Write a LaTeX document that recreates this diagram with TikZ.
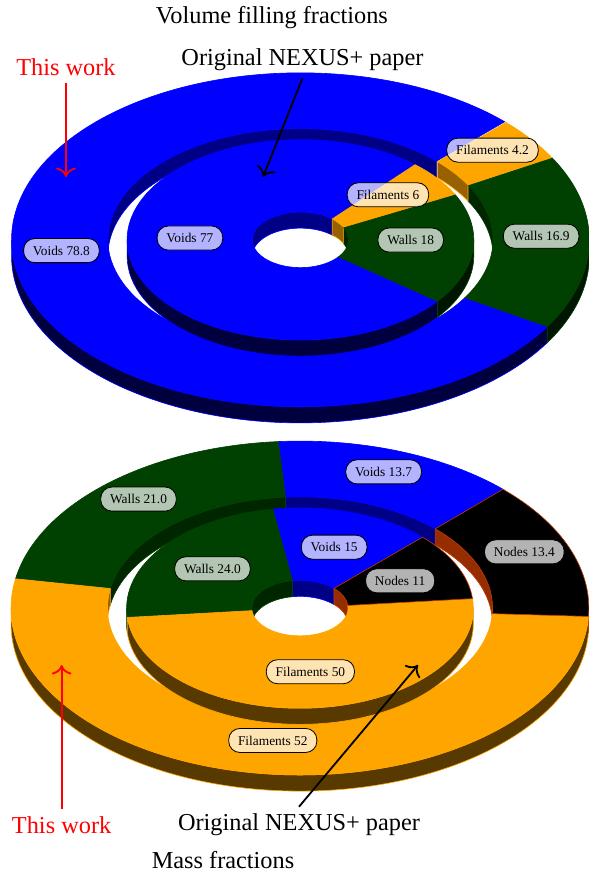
\documentclass[tikz,border=0pt]{standalone}
\usepackage{fontspec}
\setmainfont{Liberation Serif}
\usetikzlibrary{arrows.meta}

\definecolor{voidtop}{RGB}{0,0,255}
\definecolor{voidfar}{RGB}{0,0,135}
\definecolor{voidnear}{RGB}{0,0,62}
\colorlet{voidedge}{voidtop}
\definecolor{walltop}{RGB}{0,64,0}
\definecolor{wallfar}{RGB}{0,38,0}
\definecolor{wallnear}{RGB}{0,22,0}
\colorlet{walledge}{walltop}
\definecolor{filtop}{RGB}{255,165,0}
\definecolor{filfar}{RGB}{152,97,0}
\definecolor{filnear}{RGB}{88,58,0}
\colorlet{filedge}{filtop}
\definecolor{nodetop}{RGB}{0,0,0}
\definecolor{nodefar}{RGB}{150,45,0}
\definecolor{nodenear}{RGB}{120,35,0}
\definecolor{nodeedge}{RGB}{190,60,0}

\newcommand{\slab}{0.28cm}

% one side face of a slice, only the part between angles #4 and #5
\newcommand{\sideface}[7]{%
  \pgfmathsetmacro{\wa}{max(#2,#4)}%
  \pgfmathsetmacro{\wb}{min(#3,#5)}%
  \pgfmathtruncatemacro{\wok}{\wb>\wa}%
  \ifnum\wok>0
    \path[fill=#6, draw=#7, line width=0.3pt] (\wa:#1) arc[start angle=\wa, end angle=\wb, radius=#1]
      -- ++(0,-\slab) arc[start angle=\wb, end angle=\wa, radius=#1] -- cycle;
  \fi}

% one ring: inner radius, outer radius, slices start/end/kind
\newcommand{\ringpart}[3]{%
  \foreach \sa/\sb/\sk in {#3}{
    \sideface{#2}{\sa}{\sb}{180}{360}{\sk near}{\sk edge}
    \sideface{#1}{\sa}{\sb}{0}{180}{\sk far}{\sk edge}
    \sideface{#1}{\sa}{\sb}{360}{540}{\sk far}{\sk edge}
  }
  \foreach \sa/\sb/\sk in {#3}
    \path[fill=\sk top, draw=\sk edge, line width=0.3pt] (\sa:#2) arc[start angle=\sa, end angle=\sb, radius=#2]
      -- (\sb:#1) arc[start angle=\sb, end angle=\sa, radius=#1] -- cycle;
}

\begin{document}
\begin{tikzpicture}[x=1.67cm, y=1.67cm,
    lbl/.style={draw=black, fill=white, fill opacity=0.7, text opacity=1,
      rounded corners=5.5pt, inner xsep=4.6pt, inner ysep=3.6pt,
      font=\fontsize{6.6}{8}\selectfont},
    caption/.style={font=\fontsize{12}{14}\selectfont},
    pointer/.style={-{To[scale=1.3]}, line width=0.9pt}]
  \useasboundingbox (0,0) rectangle (6.116,-9.045);

  % volume filling fractions
  \begin{scope}[shift={(3.12,-2.49)}, y={(0cm,0.965cm)}]
    \ringpart{2}{3}{45/328.68/void, 328.68/389.52/wall, 389.52/404.64/fil}
    \ringpart{0.5}{1.8}{45/322.2/void, 322.2/387/wall, 387/408.6/fil}
    \foreach \ang/\rad/\lift/\name/\txt in {
        186.84/2.5/0.1/volvoidsout/Voids 78.8,
        359.1/2.5/0.1/volwallsout/Walls 16.9,
        397.08/2.5/0.1/volfilsout/Filaments 4.2,
        183.6/1.15/0.1/volvoidsin/Voids 77,
        354.6/1.15/0.1/volwallsin/Walls 18,
        397.8/1.15/0.1/volfilsin/Filaments 6}
      \node[lbl, yshift=\lift cm] (\name) at (\ang:\rad) {\txt};
  \end{scope}

  % mass fractions
  \begin{scope}[shift={(3.115,-6.314)}, y={(0cm,0.965cm)}]
    \ringpart{2}{3}{45/94.32/void, 94.32/169.92/wall, 169.92/357.12/fil, 357.12/405.36/node}
    \ringpart{0.5}{1.8}{45/99/void, 99/185.4/wall, 185.4/365.4/fil, 365.4/405/node}
    \foreach \ang/\rad/\lift/\name/\txt in {
        69.66/2.5/0.1/massvoidsout/Voids 13.7,
        132.12/2.5/0.1/masswallsout/Walls 21.0,
        263.52/2.5/0.1/massfilsout/Filaments 52,
        381.24/2.5/0.1/massnodesout/Nodes 13.4,
        72/1.15/0/massvoidsin/Voids 15,
        142.2/1.15/0/masswallsin/Walls 24.0,
        275.4/1.15/0/massfilsin/Filaments 50,
        385.2/1.15/0/massnodesin/Nodes 11}
      \node[lbl, yshift=\lift cm] (\name) at (\ang:\rad) {\txt};
  \end{scope}

  % titles and pointers
  \node[caption] (voltitle) at (2.824,-0.187) {Volume filling fractions};
  \node[caption, red] (workA) at (0.685,-0.696) {This work};
  \node[caption] (paperA) at (3.141,-0.623) {Original NEXUS+ paper};
  \coordinate (workAtip) at (0.685,-1.838);
  \coordinate (paperAtip) at (2.731,-1.838);
  \draw[pointer, red] (workA) -- (workAtip);
  \draw[pointer] (paperA.south) -- (paperAtip);

  \node[caption, red] (workB) at (0.64,-8.567) {This work};
  \node[caption] (paperB) at (3.105,-8.567) {Original NEXUS+ paper};
  \node[caption] (masstitle) at (2.316,-8.930) {Mass fractions};
  \coordinate (workBtip) at (0.64,-6.906);
  \coordinate (paperBtip) at (4.341,-6.906);
  \draw[pointer, red] (workB) -- (workBtip);
  \draw[pointer] (paperB.north) -- (paperBtip);
\end{tikzpicture}
\end{document}
